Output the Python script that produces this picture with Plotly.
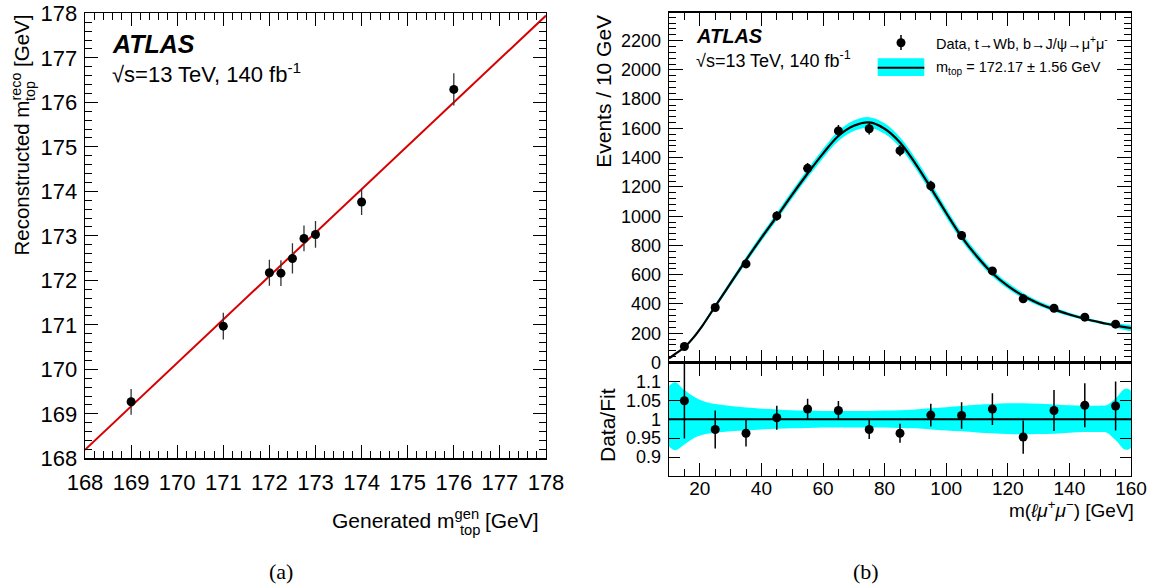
import plotly.graph_objects as go

W, H = 1154, 587
def px(x): return x / W
def py(y): return 1 - y / H

FONT = "Liberation Sans, Arial, Helvetica, sans-serif"
SERIF = "Liberation Serif, Times New Roman, serif"

# ---------------- (a) calibration ----------------
gen_mass = [169, 171, 172, 172.25, 172.5, 172.75, 173, 174, 176]
reco_mass = [169.27, 170.97, 172.17, 172.16, 172.49, 172.94, 173.03, 173.76, 176.29]
reco_err = [0.29, 0.30, 0.29, 0.29, 0.34, 0.29, 0.30, 0.29, 0.36]
calib_x = [168, 178]
calib_y = [168.19, 177.95]

# ---------------- (b) m(l mu mu) ----------------
bin_centers = [15, 25, 35, 45, 55, 65, 75, 85, 95, 105, 115, 125, 135, 145, 155]
events = [109, 376, 674, 1002, 1327, 1583, 1598, 1448, 1207, 868, 626, 435, 371, 310, 262]
events_err = [10.5, 19, 24, 32, 36, 40, 40, 38, 35, 30, 26, 21, 19, 18, 17]
ratio = [1.049, 0.973, 0.963, 1.004, 1.027, 1.023, 0.973, 0.963, 1.011, 1.010,
         1.027, 0.953, 1.023, 1.037, 1.035]
ratio_err = [0.10, 0.05, 0.035, 0.032, 0.027, 0.025, 0.025, 0.025, 0.03, 0.035,
             0.042, 0.044, 0.054, 0.058, 0.065]

fit_x = [10, 12, 15, 18, 21, 25, 30, 35, 40, 45, 50, 55, 60, 65, 70, 75, 80, 85, 90,
         95, 100, 105, 110, 115, 120, 125, 130, 135, 140, 145, 150, 152, 155, 158, 160]
fit_y = [28, 58, 104, 172, 256, 384, 542, 700, 852, 998, 1148, 1292, 1428, 1548, 1618,
         1641, 1598, 1504, 1360, 1194, 1022, 859, 725, 610, 524, 456, 404, 363, 328,
         299, 274, 265, 253, 242, 235]
band_hi = [1.088, 1.098, 1.077, 1.060, 1.048, 1.040, 1.035, 1.031, 1.028, 1.026, 1.024,
           1.023, 1.022, 1.022, 1.022, 1.022, 1.023, 1.024, 1.026, 1.029, 1.032, 1.035,
           1.038, 1.040, 1.042, 1.042, 1.041, 1.039, 1.037, 1.036, 1.036, 1.037, 1.055,
           1.080, 1.075]
band_lo = [0.928, 0.918, 0.933, 0.950, 0.959, 0.964, 0.968, 0.970, 0.973, 0.975, 0.976,
           0.977, 0.978, 0.978, 0.978, 0.978, 0.978, 0.977, 0.976, 0.973, 0.970, 0.968,
           0.965, 0.963, 0.961, 0.960, 0.961, 0.962, 0.964, 0.966, 0.966, 0.965, 0.945,
           0.920, 0.925]

CYAN = "#00ffff"
fig = go.Figure()

# (a)
fig.add_trace(go.Scatter(x=calib_x, y=calib_y, mode="lines",
                         line=dict(color="#d60000", width=2), xaxis="x", yaxis="y"))
fig.add_trace(go.Scatter(x=gen_mass, y=reco_mass, mode="markers",
                         marker=dict(color="black", size=9),
                         error_y=dict(type="data", array=reco_err, color="#333333",
                                      thickness=1.3, width=0),
                         xaxis="x", yaxis="y"))

# (b) main band
main_hi = [f * b for f, b in zip(fit_y, band_hi)]
main_lo = [f * b for f, b in zip(fit_y, band_lo)]
fig.add_trace(go.Scatter(x=fit_x + fit_x[::-1], y=main_hi + main_lo[::-1], fill="toself",
                         fillcolor=CYAN, line=dict(width=0, shape="spline"), mode="lines",
                         xaxis="x2", yaxis="y2"))
fig.add_trace(go.Scatter(x=fit_x, y=fit_y, mode="lines",
                         line=dict(color="black", width=2.2, shape="spline"),
                         xaxis="x2", yaxis="y2"))
fig.add_trace(go.Scatter(x=bin_centers, y=events, mode="markers",
                         marker=dict(color="black", size=9),
                         error_y=dict(type="data", array=events_err, color="black",
                                      thickness=1.5, width=0),
                         xaxis="x2", yaxis="y2"))

# ratio
fig.add_trace(go.Scatter(x=fit_x + fit_x[::-1], y=band_hi + band_lo[::-1], fill="toself",
                         fillcolor=CYAN, line=dict(width=0, shape="spline"), mode="lines",
                         xaxis="x3", yaxis="y3"))
fig.add_trace(go.Scatter(x=[10, 160], y=[1, 1], mode="lines",
                         line=dict(color="black", width=2.2), xaxis="x3", yaxis="y3"))
fig.add_trace(go.Scatter(x=bin_centers, y=ratio, mode="markers",
                         marker=dict(color="black", size=9),
                         error_y=dict(type="data", array=ratio_err, color="black",
                                      thickness=1.5, width=0),
                         xaxis="x3", yaxis="y3"))

def ax(**kw):
    d = dict(showline=True, linecolor="black", linewidth=1.3, mirror="allticks",
             ticks="inside", tickcolor="black", tickwidth=1, showgrid=False,
             zeroline=False, automargin=False,
             tickfont=dict(family=FONT, size=18, color="black"))
    d.update(kw)
    return d

fig.update_layout(
    width=W, height=H, showlegend=False, autosize=False,
    paper_bgcolor="white", plot_bgcolor="white",
    margin=dict(l=0, r=0, t=0, b=0, pad=0, autoexpand=False),
    font=dict(family=FONT, color="black"),
    xaxis=ax(domain=[px(85), px(546)], range=[168, 178], tick0=168, dtick=1, ticklen=13,
             minor=dict(ticks="inside", ticklen=7, dtick=0.2, tick0=168, tickcolor="black"),
             tickfont=dict(family=FONT, size=22, color="black"), ticklabelstandoff=4,
             anchor="y"),
    yaxis=ax(domain=[py(458.3), py(13.3)], range=[168, 178], tick0=168, dtick=1, ticklen=13,
             minor=dict(ticks="inside", ticklen=7, dtick=0.2, tick0=168, tickcolor="black"),
             tickfont=dict(family=FONT, size=22, color="black"), ticklabelstandoff=2,
             anchor="x"),
    xaxis2=ax(domain=[px(669), px(1131)], range=[10, 160], tick0=0, dtick=20, ticklen=13,
              minor=dict(ticks="inside", ticklen=7, dtick=5, tick0=0, tickcolor="black"),
              showticklabels=False, anchor="y2"),
    yaxis2=ax(domain=[py(362.5), py(12.7)], range=[0, 2391], tick0=0, dtick=200, ticklen=14,
              minor=dict(ticks="inside", ticklen=7, dtick=40, tick0=0, tickcolor="black"),
              ticklabelstandoff=3, anchor="x2"),
    xaxis3=ax(domain=[px(669), px(1131)], range=[10, 160], tick0=0, dtick=20, ticklen=13,
              minor=dict(ticks="inside", ticklen=7, dtick=5, tick0=0, tickcolor="black"),
              matches="x2", tickfont=dict(family=FONT, size=19, color="black"),
              ticklabelstandoff=-5, anchor="y3"),
    yaxis3=ax(domain=[py(476), py(362.5)], range=[0.85, 1.15],
              tickvals=[0.9, 0.95, 1.0, 1.05, 1.1],
              ticktext=["0.9", "0.95", "1", "1.05", "1.1"], ticklen=11,
              ticklabelstandoff=3, anchor="x3"),
)

def ann(x, y, text, size, xanchor="left", yanchor="middle", angle=0, family=FONT):
    fig.add_annotation(x=px(x), y=py(y), xref="paper", yref="paper", text=text,
                       showarrow=False, xanchor=xanchor, yanchor=yanchor, textangle=angle,
                       font=dict(family=family, size=size, color="black"))

# (a) texts
ann(110, 44, "<b><i>ATLAS</i></b>", 25)
ann(110, 73, "√s=13 TeV, 140 fb<sup>-1</sup>", 22)
ann(20, 258, "Reconstructed m<sup>reco</sup> [GeV]", 20.5, xanchor="center",
    yanchor="bottom", angle=-90)
ann(30, 103, "top", 14.3, xanchor="center", yanchor="bottom", angle=-90)
ann(541, 519, "Generated m<sup>gen</sup> [GeV]", 21, xanchor="right")
ann(457.6, 530, "top", 14.7)
ann(281, 571, "(a)", 22, xanchor="center", family=SERIF)

# (b) texts
ann(694, 36, "<b><i>ATLAS</i></b>", 20)
ann(694, 60, "√s=13 TeV, 140 fb<sup>-1</sup>", 18)
ann(604, 13.3, "Events / 10 GeV", 21, xanchor="center", yanchor="top", angle=-90)
ann(607, 425, "Data/Fit", 21, xanchor="center", angle=-90)
ann(1136, 509, "m(<i>ℓμ</i><sup>+</sup><i>μ</i><sup>−</sup>) [GeV]", 19, xanchor="right")
ann(866, 571, "(b)", 22, xanchor="center", family=SERIF)

# legend
ann(934, 42.7, "Data, t→Wb, b→J/ψ→μ<sup>+</sup>μ<sup>-</sup>", 14.5)
ann(934, 67.7, "m<sub>top</sub> = 172.17 ± 1.56 GeV", 14.5)
fig.add_shape(type="line", xref="paper", yref="paper", x0=px(901), x1=px(901),
              y0=py(35), y1=py(50), line=dict(color="black", width=1.5))
fig.add_shape(type="circle", xref="paper", yref="paper", x0=px(896.5), x1=px(905.5),
              y0=py(47.2), y1=py(38.2), fillcolor="black", line=dict(color="black", width=0))
fig.add_shape(type="rect", xref="paper", yref="paper", x0=px(877.7), x1=px(924.3),
              y0=py(76), y1=py(58.3), fillcolor=CYAN, line=dict(width=0))
fig.add_shape(type="line", xref="paper", yref="paper", x0=px(877.7), x1=px(924.3),
              y0=py(67.7), y1=py(67.7), line=dict(color="black", width=2))

fig.write_html("out.html",
               config={"displayModeBar": False, "staticPlot": True},
               post_script="document.body.style.margin='0';"
                           "document.body.style.padding='0';"
                           "document.body.style.overflow='hidden';")
